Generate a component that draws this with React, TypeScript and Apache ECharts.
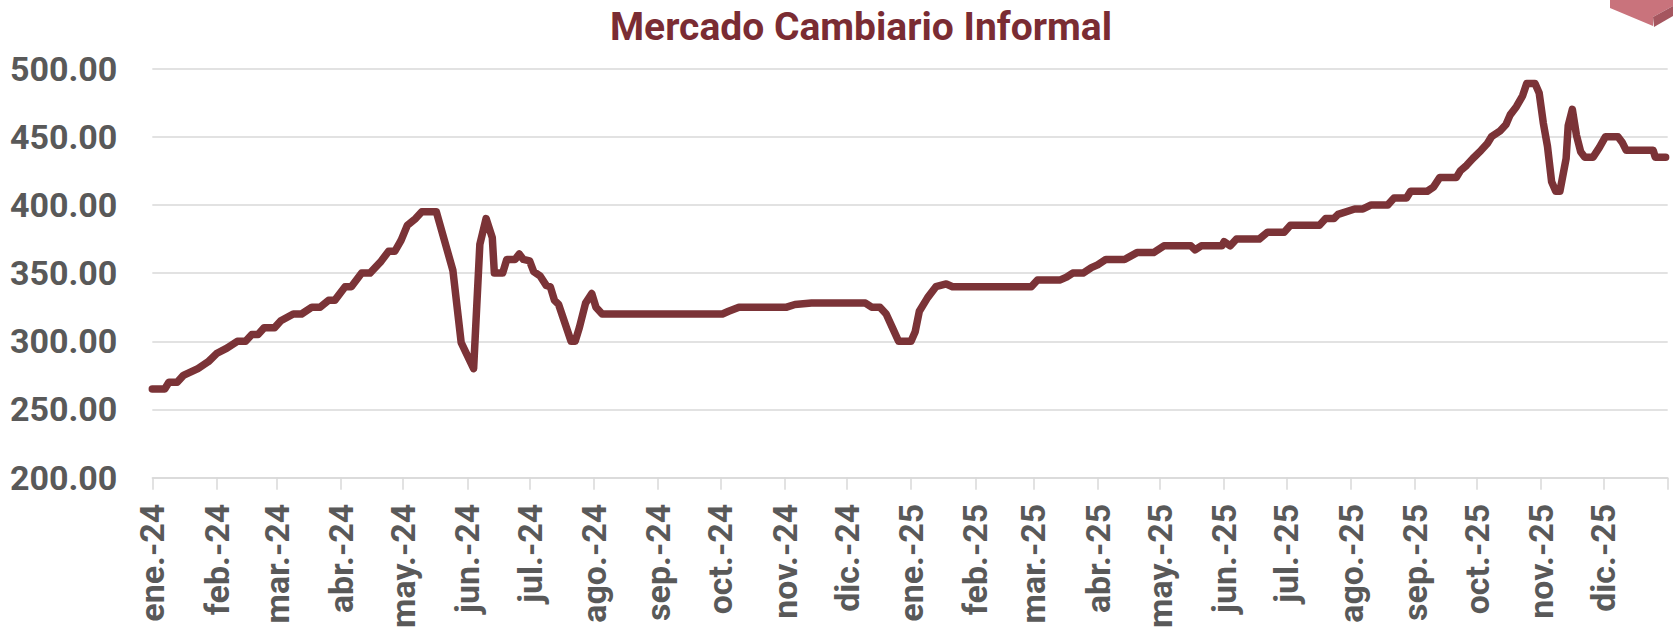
import React, { useEffect, useRef } from "react";
import * as echarts from "echarts";

const TITLE = "Mercado Cambiario Informal";

const monthStarts = [
  "2024-01-01", "2024-02-01", "2024-03-01", "2024-04-01", "2024-05-01", "2024-06-01",
  "2024-07-01", "2024-08-01", "2024-09-01", "2024-10-01", "2024-11-01", "2024-12-01",
  "2025-01-01", "2025-02-01", "2025-03-01", "2025-04-01", "2025-05-01", "2025-06-01",
  "2025-07-01", "2025-08-01", "2025-09-01", "2025-10-01", "2025-11-01", "2025-12-01",
];
const monthLabels = [
  "ene.-24", "feb.-24", "mar.-24", "abr.-24", "may.-24", "jun.-24",
  "jul.-24", "ago.-24", "sep.-24", "oct.-24", "nov.-24", "dic.-24",
  "ene.-25", "feb.-25", "mar.-25", "abr.-25", "may.-25", "jun.-25",
  "jul.-25", "ago.-25", "sep.-25", "oct.-25", "nov.-25", "dic.-25",
];
const axisStart = "2024-01-01";
const axisEnd = "2026-01-01";

const dates = [
  "2024-01-01", "2024-01-07", "2024-01-09", "2024-01-13", "2024-01-16", "2024-01-23", "2024-01-28",
  "2024-02-01", "2024-02-06", "2024-02-11", "2024-02-15", "2024-02-18", "2024-02-21", "2024-02-24", "2024-02-29",
  "2024-03-03", "2024-03-09", "2024-03-13", "2024-03-18", "2024-03-22", "2024-03-26", "2024-03-29",
  "2024-04-03", "2024-04-06", "2024-04-11", "2024-04-15", "2024-04-20", "2024-04-24", "2024-04-27", "2024-04-30",
  "2024-05-03", "2024-05-07", "2024-05-10", "2024-05-17", "2024-05-25", "2024-05-29",
  "2024-06-04", "2024-06-07", "2024-06-10", "2024-06-13", "2024-06-14", "2024-06-18", "2024-06-20", "2024-06-24", "2024-06-26", "2024-06-28",
  "2024-07-01", "2024-07-03", "2024-07-06", "2024-07-09", "2024-07-11", "2024-07-13", "2024-07-15", "2024-07-21", "2024-07-23", "2024-07-25", "2024-07-28", "2024-07-31",
  "2024-08-02", "2024-08-05",
  "2024-10-02", "2024-10-05", "2024-10-10",
  "2024-11-02", "2024-11-06", "2024-11-14",
  "2024-12-10", "2024-12-13", "2024-12-17", "2024-12-20", "2024-12-23", "2024-12-26",
  "2025-01-01", "2025-01-03", "2025-01-05", "2025-01-09", "2025-01-13", "2025-01-18", "2025-01-21",
  "2025-02-28",
  "2025-03-03", "2025-03-14", "2025-03-17", "2025-03-20", "2025-03-25", "2025-03-29",
  "2025-04-01", "2025-04-05", "2025-04-14", "2025-04-20", "2025-04-28",
  "2025-05-03", "2025-05-16", "2025-05-18", "2025-05-21", "2025-05-31",
  "2025-06-01", "2025-06-04", "2025-06-07", "2025-06-18", "2025-06-22", "2025-06-30",
  "2025-07-03", "2025-07-17", "2025-07-20", "2025-07-24", "2025-07-26",
  "2025-08-03", "2025-08-07", "2025-08-11", "2025-08-19", "2025-08-22", "2025-08-28", "2025-08-30",
  "2025-09-07", "2025-09-10", "2025-09-13", "2025-09-21", "2025-09-23", "2025-09-26", "2025-09-29",
  "2025-10-03", "2025-10-06", "2025-10-08", "2025-10-12", "2025-10-15", "2025-10-17", "2025-10-20", "2025-10-23", "2025-10-25", "2025-10-29", "2025-10-31",
  "2025-11-02", "2025-11-04", "2025-11-06", "2025-11-08", "2025-11-10", "2025-11-13", "2025-11-14", "2025-11-16", "2025-11-18", "2025-11-20", "2025-11-22", "2025-11-26", "2025-11-29",
  "2025-12-02", "2025-12-08", "2025-12-10", "2025-12-12", "2025-12-25", "2025-12-26", "2025-12-31",
];
const values = [
  265, 265, 270, 270, 275, 280, 285,
  291, 295, 300, 300, 305, 305, 310, 310,
  315, 320, 320, 325, 325, 330, 330,
  340, 340, 350, 350, 358, 366, 366, 374,
  385, 390, 395, 395, 352, 299,
  280, 371, 390, 376, 350, 350, 360, 360, 364, 360,
  359, 351, 348, 341, 340, 330, 327, 300, 300, 310, 328, 335,
  325, 320,
  320, 322, 325,
  325, 327, 328,
  328, 325, 325, 320, 310, 300,
  300, 307, 322, 332, 340, 342, 340,
  340,
  345, 345, 347, 350, 350, 354,
  356, 360, 360, 365, 365,
  370, 370, 367, 370, 370,
  373, 370, 375, 375, 380, 380,
  385, 385, 390, 390, 393,
  397, 397, 400, 400, 405, 405, 410,
  410, 413, 420, 420, 425, 429, 434,
  440, 445, 450, 454, 459, 466, 472, 480, 489, 489, 482,
  460, 443, 417, 410, 410, 434, 458, 470, 451, 439, 435, 435, 442,
  450, 450, 446, 440, 440, 435, 435,
];

const yTicks = [200, 250, 300, 350, 400, 450, 500];

const DAY = 86400000;
const base = Date.parse(axisStart);
const dayOf = (s: string) => Math.round((Date.parse(s) - base) / DAY);

export default function App() {
  const ref = useRef<HTMLDivElement>(null);

  useEffect(() => {
    if (!ref.current) return;
    const chart = echarts.init(ref.current, undefined, { renderer: "svg" });
    const monthOffsets = monthStarts.map(dayOf);
    const endOffset = dayOf(axisEnd);
    const seriesData = dates.map((d, i) => [dayOf(d), values[i]]);
    const font = "Roboto";
    const grid = "#d9d9d9";

    chart.setOption({
      animation: false,
      backgroundColor: "#ffffff",
      title: {
        text: TITLE,
        left: 856,
        top: 2,
        textAlign: "center",
        textStyle: {
          fontFamily: font,
          fontWeight: "bold",
          fontSize: 39,
          color: "#7a2c33",
        },
      },
      grid: { left: 152.3, right: 5.3, top: 68.5, bottom: 147.5, containLabel: false },
      xAxis: {
        type: "value",
        min: 0,
        max: endOffset,
        splitLine: { show: false },
        axisLine: { show: true, lineStyle: { color: grid, width: 1.5 } },
        axisTick: {
          show: true,
          length: 12,
          inside: false,
          customValues: [...monthOffsets, endOffset],
          lineStyle: { color: grid, width: 1.5 },
        },
        axisLabel: {
          show: true,
          customValues: monthOffsets,
          rotate: 90,
          margin: 26,
          fontFamily: font,
          fontWeight: "bold",
          fontSize: 34,
          color: "#595959",
          formatter: (v: number) => {
            const i = monthOffsets.indexOf(Math.round(v));
            return i >= 0 ? monthLabels[i] : "";
          },
        },
      },
      yAxis: {
        type: "value",
        min: yTicks[0],
        max: yTicks[yTicks.length - 1],
        interval: 50,
        axisLine: { show: false },
        axisTick: { show: false },
        splitLine: { show: true, lineStyle: { color: grid, width: 1.5 } },
        axisLabel: {
          margin: 35,
          fontFamily: font,
          fontWeight: "bold",
          fontSize: 34,
          color: "#595959",
          formatter: (v: number) => v.toFixed(2),
        },
      },
      graphic: [
        {
          type: "polygon",
          shape: { points: [[1610, 0], [1610, 8], [1653, 26], [1653, 17], [1673, 6], [1673, 0]] },
          style: { fill: "#c9737c" },
          silent: true,
        },
        {
          type: "polygon",
          shape: { points: [[1653, 17], [1673, 6], [1673, 16], [1654, 27]] },
          style: { fill: "#a5565f" },
          silent: true,
        },
      ],
      series: [
        {
          type: "line",
          data: seriesData,
          showSymbol: false,
          symbol: "none",
          smooth: false,
          lineStyle: { color: "#7b3337", width: 7.5, cap: "round", join: "round" },
        },
      ],
    });

    return () => chart.dispose();
  }, []);

  return (
    <div
      ref={ref}
      style={{ position: "fixed", left: 0, top: 0, width: 1673, height: 631 }}
    />
  );
}
